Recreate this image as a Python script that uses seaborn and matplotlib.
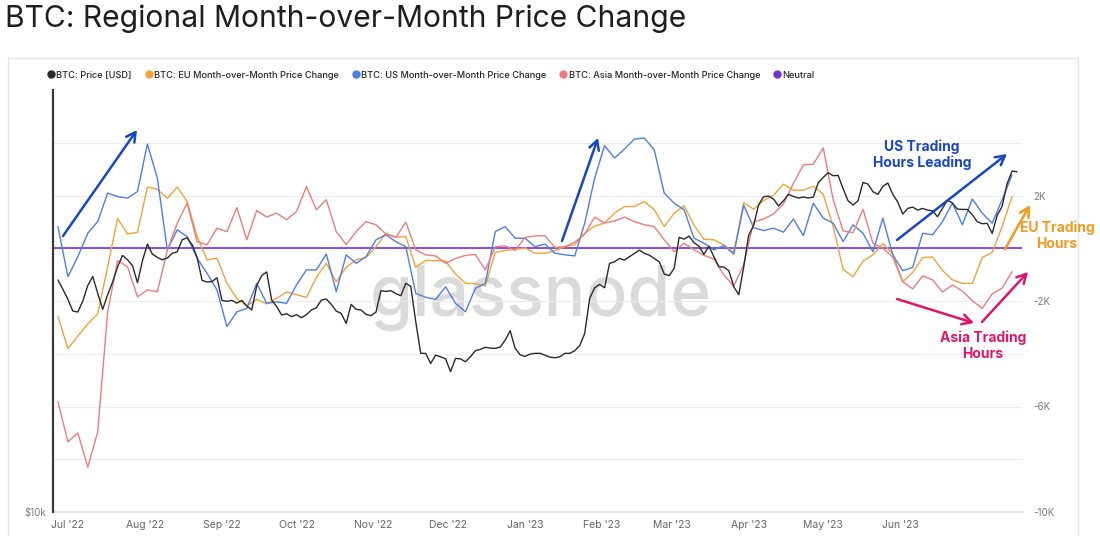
import numpy as np
import pandas as pd
import matplotlib
matplotlib.use("Agg")
import matplotlib.pyplot as plt
import matplotlib.ticker as mticker
import matplotlib.dates as mdates
from matplotlib.lines import Line2D
from matplotlib.patches import Rectangle
import seaborn as sns

# ---------------- data ----------------
start_date = "2022-06-27"
change_step = "4D"   # regional change series sampled every 4 days
price_step = "2D"    # price sampled every 2 days

price_usd = [21430, 20780, 20110, 19350, 19290, 20000, 21050, 21680, 20510, 19460, 20420, 21290,
             22380, 23230, 22900, 22460, 21240, 22830, 24110, 23330, 23080, 22900, 23030, 23390,
             23510, 24460, 24620, 24060, 23080, 21400, 21290, 21320, 21590, 20040, 19980, 20040,
             19860, 20040, 19670, 19420, 21030, 21750, 22000, 20060, 19650, 19100, 19180, 19000,
             19120, 18930, 19120, 19420, 19560, 20060, 20130, 19780, 19350, 19200, 18580, 19780,
             19460, 19420, 19140, 19060, 19290, 20690, 20640, 20690, 20490, 20350, 21200, 20980,
             18680, 16840, 16840, 16290, 16740, 16650, 16540, 15860, 16560, 16540, 16380, 16650,
             16990, 17060, 17180, 17130, 17120, 17190, 17590, 18140, 17120, 16760, 16670, 16800,
             16840, 16840, 16740, 16630, 16600, 16650, 16840, 16840, 16990, 17270, 17980, 20170,
             20890, 21120, 20890, 22630, 22750, 23000, 22880, 23130, 23390, 23640, 23390, 23250,
             23000, 22750, 21860, 21730, 22260, 24650, 24510, 24750, 24220, 23950, 23310, 23950,
             23130, 22380, 22360, 22090, 20960, 20420, 22380, 24830, 25640, 27440, 28170, 28230,
             27960, 27320, 27800, 28390, 28200, 28050, 28140, 28050, 28140, 29500, 30020, 30480,
             30180, 30220, 28920, 27800, 27410, 27800, 29530, 29370, 28640, 28390, 29140, 29470,
             28390, 27680, 26610, 27110, 27230, 26960, 27110, 26960, 26900, 26380, 27110, 27870,
             27590, 27050, 27020, 27020, 26550, 25950, 25780, 25810, 24970, 26500, 27290, 29400,
             30650, 30580]

eu_change = [-2590, -3800, -3330, -2870, -2490, -700, 1130, 540, 610, 2320, 2240, 1890, 2320, 1770, 440, -440,
             -380, -1320, -1910, -2180, -1940, -2110, -1900, -1660, -1760, -1860, -1100, -570, -1270, -720, -440, -350, 60,
             570, 420, 440, -720, -460, -470, -490, -970, -1330, -1340, -1430, -160, -80, -40, 10, -190,
             -190, -90, 60, 140, 570, 840, 960, 1330, 1580, 1580, 1770, 1460, 820, 1330, 1610, 870, 340,
             320, 130, -160, 1730, 1480, 1810, 2010, 2430, 2200, 2200, 2350, 2050, 820, -800, -1080, -490, -250,
             180, -220, -1270, -920, -350, -330, -840, -1200, -1330, -1330, -350, -160, 820, 1960]

us_change = [820, -1080, -320, 570, 1010, 2090, 1960, 1900, 2150, 3950, 2660, -60, 700, 440, -380, -950,
             -1580, -2970, -2410, -2280, -1330, -2090, -2030, -2090, -1390, -820, -820, -220, -1650, -250, -570, -320, 320,
             510, 250, 60, -1710, -1860, -1940, -1460, -2090, -2410, -1520, -1330, 630, 820, 380, 380, 60,
             160, -190, -250, -290, 950, 2660, 3890, 3420, 3760, 4140, 4180, 3730, 2090, 1710, 1460, 380, 190,
             -60, 100, -220, 1630, 780, 670, 760, 610, 1110, 480, 1710, 1140, 950, 250, 890, 570, -130,
             1140, -250, -850, -730, 570, 510, 1010, 1710, 890, 1870, 1330, 950, 1840, 2780]

asia_change = [-5820, -7340, -7000, -8300, -6960, -2410, -470, -700, -1840, -1580, -1650, -90, 950, 1710, 250, 130,
               760, 630, 1540, 320, 1430, 1180, 1330, 1080, 1390, 2340, 1460, 1840, 630, 140, 630, 1010, 890,
               540, 410, 990, -60, -250, -290, -570, -390, -270, -240, -820, 60, 90, -80, 410, 470,
               470, 30, 60, 230, 530, 1180, 960, 1030, 1180, 1010, 890, 820, 320, -130, 190, -60, -270,
               -410, -1010, -1430, -620, 1000, 1110, 1300, 1680, 2460, 3160, 3190, 3800, 1840, 660, 590, 1480, 190,
               0, -340, -1270, -1540, -1050, -1200, -1660, -1390, -1620, -1990, -2280, -1730, -1510, -890]

neutral_level = 0

series_labels = ["BTC: Price [USD]", "BTC: EU Month-over-Month Price Change",
                 "BTC: US Month-over-Month Price Change", "BTC: Asia Month-over-Month Price Change", "Neutral"]
month_ticks = pd.date_range("2022-07-01", "2023-06-01", freq="MS")
right_ticks = [-10000, -6000, -2000, 2000]
right_minor = [-8000, -4000, 0, 4000]
title = "BTC: Regional Month-over-Month Price Change"

change_dates = pd.date_range(start_date, periods=len(eu_change), freq=change_step)
price_dates = pd.date_range(start_date, periods=len(price_usd), freq=price_step)
df = pd.DataFrame({"date": change_dates, "eu": eu_change, "us": us_change, "asia": asia_change})
df_price = pd.DataFrame({"date": price_dates, "price": price_usd})

# ---------------- style ----------------
C_PRICE = "#2a2a2a"
C_EU = "#f5a13a"
C_US = "#4c7fe6"
C_ASIA = "#f07b7b"
C_NEUTRAL = "#7a2fd2"
C_US_ANN = "#1747c2"
C_EU_ANN = "#f09a20"
C_ASIA_ANN = "#e0166c"

sns.set_theme(style="white")
plt.rcParams["font.family"] = ["Inter", "DejaVu Sans"]

W, H = 1100, 536
fig = plt.figure(figsize=(W / 100, H / 100), dpi=100, facecolor="white")

def fx(x):
    return x / W

def fy(y):
    return 1 - y / H

# panel frame
fig.patches.append(Rectangle((fx(8), -0.02), fx(1078) - fx(8), fy(58) + 0.02, transform=fig.transFigure,
                             fill=False, edgecolor="#e4e4e4", lw=1.0))

fig.text(fx(5), fy(19), title, fontsize=21.6, color="#1e1e1e", ha="left", va="center")

ax = fig.add_axes([fx(53), fy(512), fx(1022) - fx(53), fy(90) - fy(512)])
ax2 = ax.twinx()
ax.patch.set_alpha(0)
ax2.patch.set_alpha(0)

# watermark
ax.text(fx(541), fy(298), "glassnode", transform=fig.transFigure, fontsize=50, color="#dadada",
        ha="center", va="center", fontweight="medium", zorder=0.5)

ax.axhline(neutral_level, color=C_NEUTRAL, lw=1.2, zorder=2)
sns.lineplot(data=df, x="date", y="eu", ax=ax, color=C_EU, lw=1.0, zorder=3)
sns.lineplot(data=df, x="date", y="us", ax=ax, color=C_US, lw=1.0, zorder=3)
sns.lineplot(data=df, x="date", y="asia", ax=ax, color=C_ASIA, lw=1.0, zorder=3)
sns.lineplot(data=df_price, x="date", y="price", ax=ax2, color=C_PRICE, lw=1.0)

# right (change) axis
ax.set_xlim(pd.Timestamp("2022-06-25"), pd.Timestamp("2023-07-20"))
ax.set_ylim(-10000, 6000)
ax.yaxis.tick_right()
ax.set_yticks(right_ticks)
ax.set_yticks(right_minor, minor=True)
ax.yaxis.set_major_formatter(mticker.FuncFormatter(lambda v, p: f"{v/1000:.0f}K"))
ax.grid(True, which="both", axis="y", color="#ececec", lw=0.8)
ax.grid(False, axis="x")
ax.tick_params(axis="y", which="both", length=0, pad=8, labelsize=7, labelcolor="#7a7a7a")
ax.set_xticks(month_ticks)
ax.xaxis.set_major_formatter(mdates.DateFormatter("%b '%y"))
ax.tick_params(axis="x", length=3, color="#dddddd", labelsize=7.5, labelcolor="#666666", pad=3)
ax.set_xlabel("")
ax.set_ylabel("")
for s in ["top", "left", "right"]:
    ax.spines[s].set_visible(False)
ax.spines["bottom"].set_color("#e2e2e2")

# left (price) axis
ax2.set_yscale("log")
ax2.set_ylim(10000, 40000)
ax2.yaxis.tick_left()
ax2.yaxis.set_major_locator(mticker.FixedLocator([10000]))
ax2.yaxis.set_minor_locator(mticker.NullLocator())
ax2.yaxis.set_major_formatter(mticker.FuncFormatter(lambda v, p: f"${v/1000:.0f}k"))
ax2.tick_params(axis="y", length=0, pad=5, labelsize=7, labelcolor="#7a7a7a")
ax2.set_ylabel("")
for s in ["top", "right", "bottom"]:
    ax2.spines[s].set_visible(False)
ax2.spines["left"].set_color("#3a3a3a")
ax2.spines["left"].set_linewidth(1.6)

# legend
handles = [Line2D([], [], ls="", marker="o", markersize=5, color=c)
           for c in [C_PRICE, C_EU, C_US, C_ASIA, C_NEUTRAL]]
fig.legend(handles, series_labels, loc="center left", bbox_to_anchor=(fx(38), fy(75)), ncol=5,
           frameon=False, handletextpad=0.1, columnspacing=1.3, handlelength=1.0,
           prop={"weight": "medium", "size": 6.65})

# annotations (figure-pixel placement)
def arrow(x0, y0, x1, y1, color):
    ax2.annotate("", xy=(fx(x1), fy(y1)), xytext=(fx(x0), fy(y0)),
                 xycoords="figure fraction", textcoords="figure fraction",
                 arrowprops=dict(arrowstyle="->,head_length=0.55,head_width=0.3", color=color, lw=1.8,
                                 shrinkA=0, shrinkB=0), annotation_clip=False)

arrow(63, 236, 137, 130, C_US_ANN)
arrow(562, 241, 598, 138, C_US_ANN)
arrow(897, 240, 1007, 154, C_US_ANN)
arrow(1005, 249, 1030, 205, C_EU_ANN)
arrow(897, 299, 974, 323, C_ASIA_ANN)
arrow(982, 322, 1028, 272, C_ASIA_ANN)

fig.text(fx(922), fy(155), "US Trading\nHours Leading", color=C_US_ANN, fontsize=10, fontweight="bold",
         ha="center", va="center", multialignment="center", linespacing=1.15)
fig.text(fx(1057), fy(236), "EU Trading\nHours", color=C_EU_ANN, fontsize=10, fontweight="bold",
         ha="center", va="center", multialignment="center", linespacing=1.15)
fig.text(fx(983), fy(346), "Asia Trading\nHours", color=C_ASIA_ANN, fontsize=10, fontweight="bold",
         ha="center", va="center", multialignment="center", linespacing=1.15)

fig.savefig("out.png", dpi=100, facecolor="white")
